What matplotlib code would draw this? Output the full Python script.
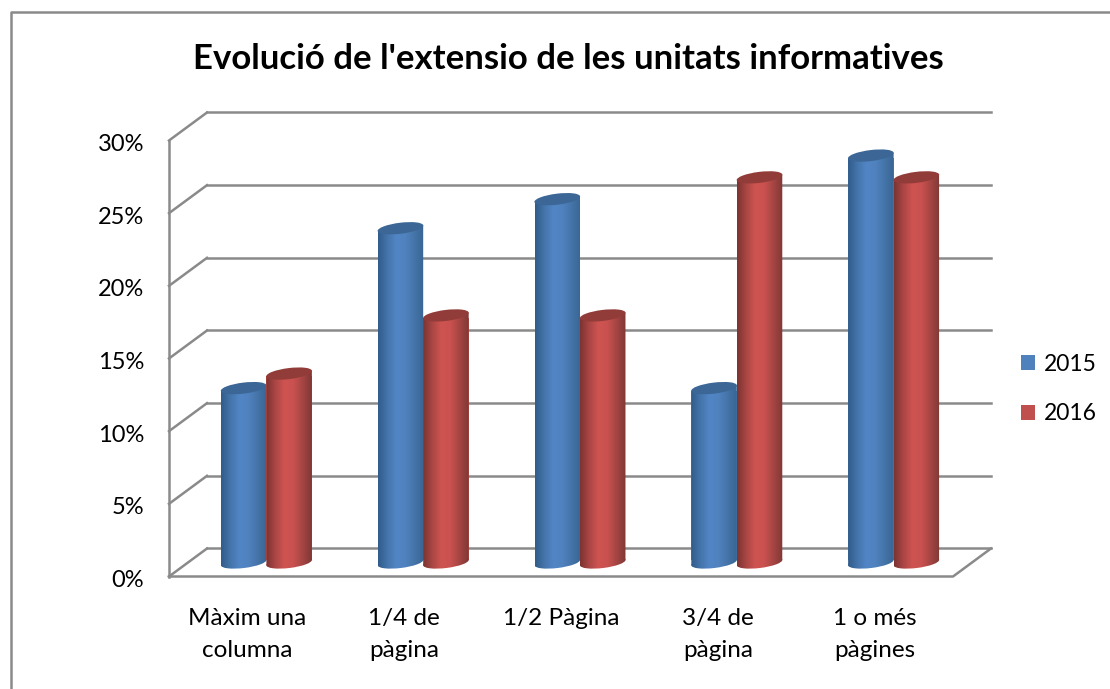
import numpy as np
import matplotlib
matplotlib.use("Agg")
import matplotlib.pyplot as plt
from matplotlib.colors import LinearSegmentedColormap
from matplotlib.lines import Line2D
from matplotlib.patches import Ellipse, Patch, Polygon
from matplotlib.transforms import Affine2D, ScaledTranslation

categories = ["Màxim una\ncolumna", "1/4 de\npàgina", "1/2 Pàgina", "3/4 de\npàgina", "1 o més\npàgines"]
years = ["2015", "2016"]
values_2015 = [12, 23, 25, 12, 28]
values_2016 = [13, 17, 17, 26.5, 26.5]
y_ticks = [0, 5, 10, 15, 20, 25, 30]
title = "Evolució de l'extensio de les unitats informatives"

GRID = "#8a8a8a"
FONT = "Lato"

# depth of the fake 3d box, in data units
DEPTH_X = 0.2423
DEPTH_Y = 1.927
BAR_W = 0.29
TILT = 0.19  # how far the ellipse ends rise or drop, in %

blue_cm = LinearSegmentedColormap.from_list("b", ["#315c8a", "#4474aa", "#5285c5", "#5082bf", "#4474a8", "#3a6594"])
red_cm = LinearSegmentedColormap.from_list("r", ["#7c3432", "#aa4644", "#cf5451", "#c9514f", "#a54543", "#7f3836"])
gradient = np.linspace(0, 1, 128).reshape(1, -1)

fig = plt.figure(figsize=(11.10, 6.89), dpi=100)
ax = fig.add_axes([169 / 1110, (689 - 576.5) / 689, 784 / 1110, 436 / 689])
ax.set_xlim(0, 5)
ax.set_ylim(0, 30)

# walls and floor
for t in y_ticks:
    ax.plot([DEPTH_X, 5 + DEPTH_X], [t + DEPTH_Y, t + DEPTH_Y], color=GRID, lw=1.8, clip_on=False, zorder=1)
    ax.plot([0, DEPTH_X], [t, t + DEPTH_Y], color=GRID, lw=1.8, clip_on=False, zorder=1)
ax.plot([0, 0], [0, 30], color=GRID, lw=1.8, clip_on=False, zorder=1)
ax.plot([0, 5, 5 + DEPTH_X], [0, 0, DEPTH_Y], color=GRID, lw=1.8, clip_on=False, zorder=1)


def cylinder(x, value, cmap, cap_color, z):
    base = DEPTH_Y / 2
    left = x - BAR_W / 2
    right = x + BAR_W / 2
    ax.bar(x, value - 2 * TILT, BAR_W, bottom=base + TILT, color=cmap(0.5), zorder=z)

    # side of the cylinder follows the tilt of the ellipses
    side = Polygon([(left, base - TILT), (right, base + TILT), (right, base + value + TILT), (left, base + value - TILT)],
                   transform=ax.transData, facecolor="none", edgecolor="none")
    ax.add_patch(side)
    im = ax.imshow(gradient, extent=(left, right, base - 1, base + value + 1), cmap=cmap, aspect="auto", zorder=z)
    im.set_clip_path(side)

    low = Ellipse((0, 0), 46, 11, angle=7, transform=ScaledTranslation(x, base, ax.transData),
                  facecolor="none", edgecolor="none", zorder=z)
    ax.add_patch(low)
    im2 = ax.imshow(gradient, extent=(left, right, base - 1, base + 1), cmap=cmap, aspect="auto", zorder=z)
    im2.set_clip_path(low)

    top = Ellipse((0, 0), 46, 11, angle=7, transform=ScaledTranslation(x, base + value, ax.transData),
                  facecolor=cap_color, edgecolor="none", zorder=z + 0.1, clip_on=False)
    ax.add_patch(top)


for i in range(len(categories)):
    c = i + 0.5 + DEPTH_X / 2
    cylinder(c - BAR_W / 2, values_2015[i], blue_cm, "#3b6695", 3)
    cylinder(c + BAR_W / 2, values_2016[i], red_cm, "#923c39", 3.2)

ax.set_xlim(0, 5)
ax.set_ylim(0, 30)
for s in ax.spines.values():
    s.set_visible(False)
ax.set_yticks(y_ticks)
ax.set_yticklabels([f"{t}%" for t in y_ticks], fontsize=17, family=FONT, color="black")
ax.set_xticks(np.arange(5) + 0.5)
ax.set_xticklabels(categories, fontsize=17.5, family=FONT, color="black", linespacing=1.65)
ax.tick_params(axis="y", length=0, pad=18)
ax.tick_params(axis="x", length=0, pad=23)
# labels sit a little lower than the tick position
for lab in ax.get_yticklabels():
    lab.set_transform(lab.get_transform() + Affine2D().translate(0, -2))

fig.text(568 / 1110, 1 - 59 / 689, title, ha="center", va="center", fontsize=25,
         fontweight="bold", family=FONT, color="black")

# chart frame, only top and left are visible in the crop
fig.add_artist(Line2D([11 / 1110, 11 / 1110, 1], [0, 1 - 12 / 689, 1 - 12 / 689], color=GRID, lw=1.8))

handles = [Patch(facecolor="#4f81bd", label=years[0]), Patch(facecolor="#c0504d", label=years[1])]
fig.legend(handles=handles, loc="center left", bbox_to_anchor=(1000 / 1110, 1 - 389 / 689), frameon=False,
           prop={"family": FONT, "size": 16.5}, handlelength=0.62, handleheight=0.62,
           handletextpad=0.4, labelspacing=1.25)

fig.savefig("out.png", dpi=100)
